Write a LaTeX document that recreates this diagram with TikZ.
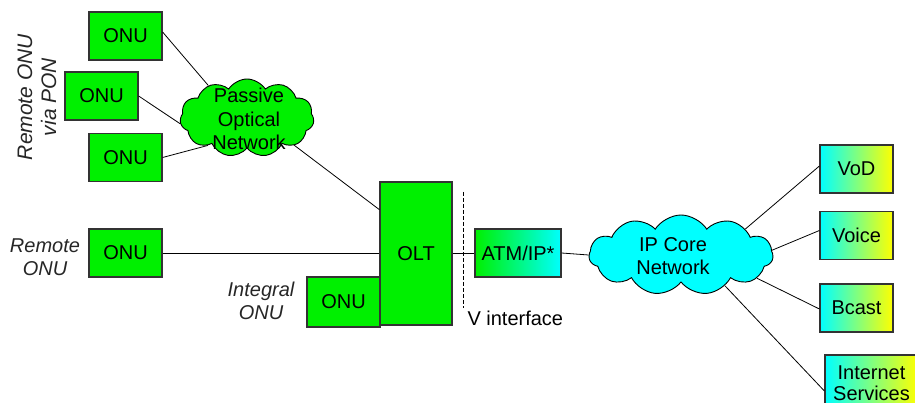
\documentclass[tikz,border=0pt]{standalone}
\usepackage{fontspec}
\setmainfont{Liberation Sans}
\usetikzlibrary{shapes.symbols,calc}
\definecolor{grn}{RGB}{0,240,0}
\definecolor{cyn}{RGB}{0,255,255}
\definecolor{yel}{RGB}{255,255,0}
\begin{document}
\begin{tikzpicture}[x=1pt,y=-1pt,
  font=\fontsize{20}{23}\selectfont,
  box/.style={draw=black!80,line width=1.2pt,fill=grn,minimum width=73pt,minimum height=48pt,inner sep=0pt},
  gbox/.style={draw=black!80,line width=1.2pt,left color=cyn,right color=yel,minimum width=73pt,minimum height=48pt,inner sep=0pt,align=center},
  cl/.style={cloud,cloud puffs=11,cloud puff arc=115,draw=black,line width=0.9pt,inner sep=0pt},
  ctext/.style={align=center,inner sep=0pt,font=\fontsize{20}{23.5}\selectfont},
  wire/.style={draw=black,line width=0.8pt},
  lab/.style={font=\fontsize{20}{23}\selectfont\itshape,align=center,text=black!85}]
\useasboundingbox (0,0) rectangle (915,403);
\clip (0,0) rectangle (915,403);
% left ONUs
\node[box] (onu1) at (125.5,36) {ONU};
\node[box] (onu2) at (101.5,96) {ONU};
\node[box] (onu3) at (125.5,157.5) {ONU};
\node[box] (onur) at (125.5,253) {ONU};
\node[lab,rotate=90,font=\fontsize{21}{24}\selectfont\itshape] (lpon) at (37,97) {Remote ONU\\via PON};
\node[lab] (lrem) at (45,257) {Remote\\ONU};
% PON cloud
\node[cl,fill=grn,minimum width=134pt,minimum height=78pt] (pon) at (247,118) {};
\node[ctext] (ponlab) at (249,119) {Passive\\Optical\\Network};
% OLT
\node[box,minimum width=72pt,minimum height=143pt] (olt) at (416,253.5) {OLT};
\node[box,minimum width=73pt,minimum height=50pt] (onui) at (343.5,302) {ONU};
\node[lab] (lint) at (261,301) {Integral\\ONU};
% ATM
\node[draw=black!80,line width=1.2pt,left color=grn,right color=cyn,minimum width=86pt,minimum height=48pt,inner sep=0pt] (atm) at (518,253) {ATM/IP*};
\coordinate (vtop) at (463,192);
\coordinate (vbot) at (463,308);
\draw[line width=0.9pt,dash pattern=on 4pt off 2pt] (vtop) -- (vbot);
\node[anchor=west] (vlab) at (464,318) {V interface};
% IP cloud
\node[cl,fill=cyn,minimum width=184pt,minimum height=80pt] (ipc) at (681,255) {};
\node[ctext,align=center] (iplab) at (673,256) {IP Core\\Network};
% services
\node[gbox] (vod) at (856.5,169) {VoD};
\node[gbox] (voice) at (856.5,235.5) {Voice};
\node[gbox] (bcast) at (856.5,308) {Bcast};
\node[gbox,minimum width=93pt,minimum height=56pt,font=\fontsize{20}{21}\selectfont] (inet) at (871.5,383) {Internet\\Services};
% wires
\coordinate (oltin) at ($(olt.north west)!0.196!(olt.south west)$);
\draw[wire] ([yshift=4pt]onu1.east) -- (pon.140);
\draw[wire] (onu2.east) -- (pon.185);
\draw[wire] (onu3.east) -- (pon.215);
\draw[wire] (pon.330) -- (oltin);
\draw[wire] (onur.east) -- (onur.east -| olt.west);
\draw[wire] (atm.west -| olt.east) -- (atm.west);
\draw[wire] (atm.east) -- (ipc.west);
\draw[wire] (ipc.22) -- ([yshift=3pt]vod.west);
\draw[wire] (ipc.3) -- ([yshift=5pt]voice.west);
\draw[wire] (ipc.-17) -- ([yshift=-1pt]bcast.west);
\draw[wire] (ipc.-35) -- ([yshift=-8pt]inet.west);
\end{tikzpicture}
\end{document}
